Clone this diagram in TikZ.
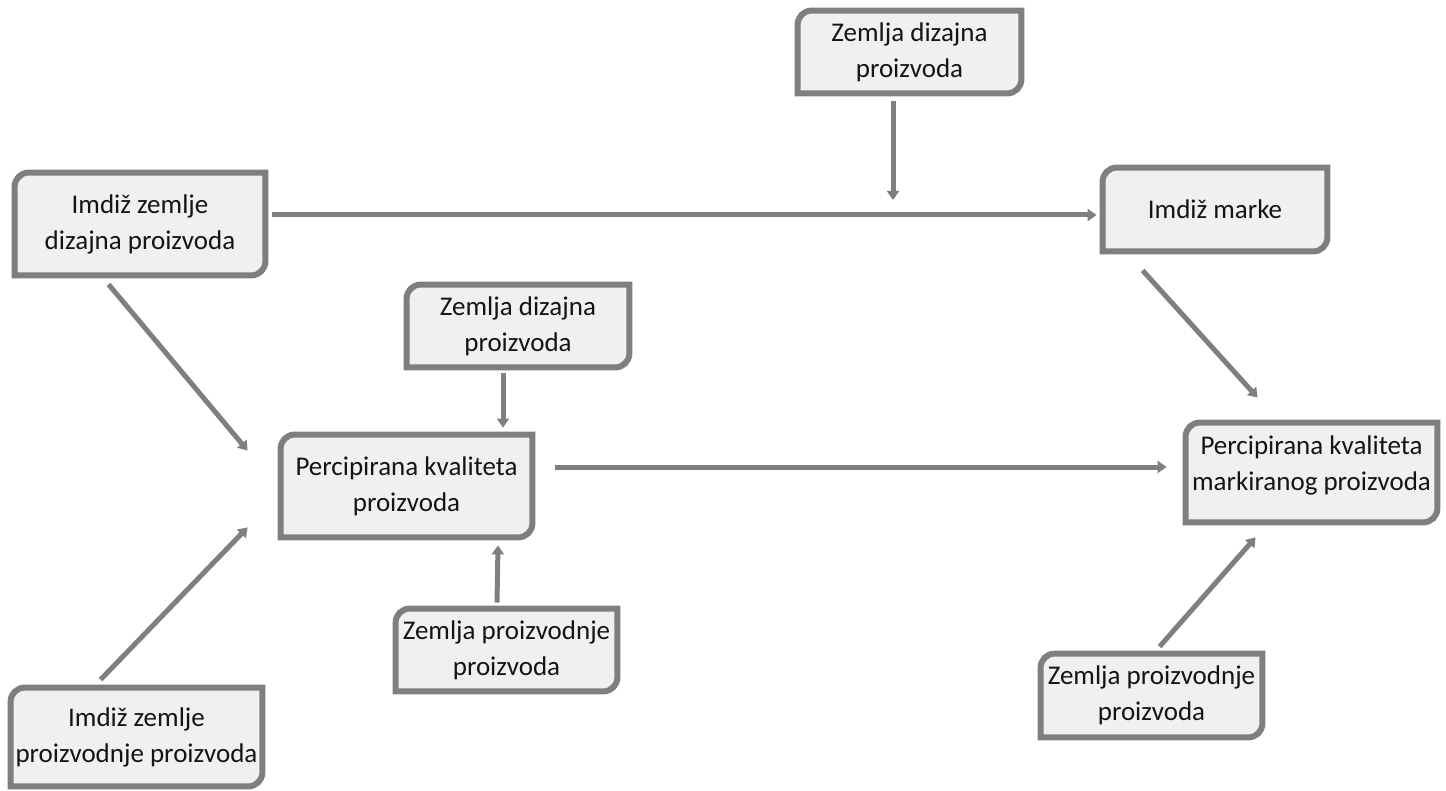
\documentclass[tikz,border=0pt]{standalone}
\usepackage{fontspec}
\setmainfont{Carlito}
\usetikzlibrary{arrows.meta,calc,backgrounds}
\definecolor{framegray}{HTML}{7F7F7F}
\definecolor{boxfill}{HTML}{F0F0F0}
\definecolor{txt}{HTML}{141414}
\tikzset{
  box/.style={draw=none, inner sep=2pt, align=center, text=txt,
    font=\fontsize{13.5pt}{18pt}\selectfont},
  frame/.style={draw=framegray, fill=boxfill, line width=3pt},
  conn/.style={draw=framegray, line width=2.5pt, -{Triangle[width=6pt,length=4.5pt]}}
}
\begin{document}
\begin{tikzpicture}[x=0.5pt,y=-0.5pt]
\useasboundingbox (0,0) rectangle (1446,791);
% boxes (sizes are inner edge of frame line centre)
\node[box, minimum width=125pt, minimum height=51pt] (A) at (140,224) {Imdiž zemlje\\dizajna proizvoda};
\node[box, minimum width=111.5pt, minimum height=41pt] (B) at (909.5,52) {Zemlja dizajna\\proizvoda};
\node[box, minimum width=112pt, minimum height=41.5pt] (C) at (1215,209.5) {Imdiž marke};
\node[box, minimum width=111pt, minimum height=41pt] (D) at (518,326) {Zemlja dizajna\\proizvoda};
\node[box, minimum width=125.5pt, minimum height=51pt] (E) at (406.5,486) {Percipirana kvaliteta\\proizvoda};
\node[box, minimum width=125.5pt, minimum height=49.5pt] (F) at (1311.5,472.5) {Percipirana kvaliteta\\markiranog proizvoda\\[-9pt]\mbox{}};
\node[box, minimum width=110.5pt, minimum height=41pt] (G) at (506.5,650) {Zemlja proizvodnje\\proizvoda};
\node[box, minimum width=125.5pt, minimum height=49pt] (H) at (136.5,737) {Imdiž zemlje\\proizvodnje proizvoda};
\node[box, minimum width=110.5pt, minimum height=41.5pt] (I) at (1151.5,695.5) {Zemlja proizvodnje\\proizvoda};
\begin{pgfonlayer}{background}
\foreach \n in {A,B,C,D,E,F,G,H,I}{
  \draw[frame] (\n.south west) -- ([yshift=-7pt]\n.north west)
    arc[start angle=180,end angle=90,radius=7pt] -- (\n.north east)
    -- ([yshift=7pt]\n.south east)
    arc[start angle=0,end angle=-90,radius=7pt] -- cycle;
}
\end{pgfonlayer}
% connectors
\coordinate (join) at (893,200);
\draw[conn] ($(A.east)+(7,-9)$) -- ($(C.west)+(-6,5.5)$);
\draw[conn] ($(B.south)+(-16.5,8)$) -- (join);
\draw[conn] ($(A.south west)+(94,9)$) -- ($(E.north west)+(-33,16)$);
\draw[conn] ($(C.south west)+(40,19)$) -- ($(F.north west)+(72,-25)$);
\draw[conn] ($(D.south)+(-15,6)$) -- ($(E.north)+(96.5,-7)$);
\draw[conn] ($(E.east)+(23,-19)$) -- ($(F.west)+(-19,-5.5)$);
\draw[conn] ($(G.north)+(-9.5,-6)$) -- ($(E.south)+(91.5,8)$);
\draw[conn] ($(H.north west)+(90,-8)$) -- ($(E.south west)+(-33,-10)$);
\draw[conn] ($(I.north west)+(119,-7)$) -- ($(F.south west)+(70,15)$);
\end{tikzpicture}
\end{document}
